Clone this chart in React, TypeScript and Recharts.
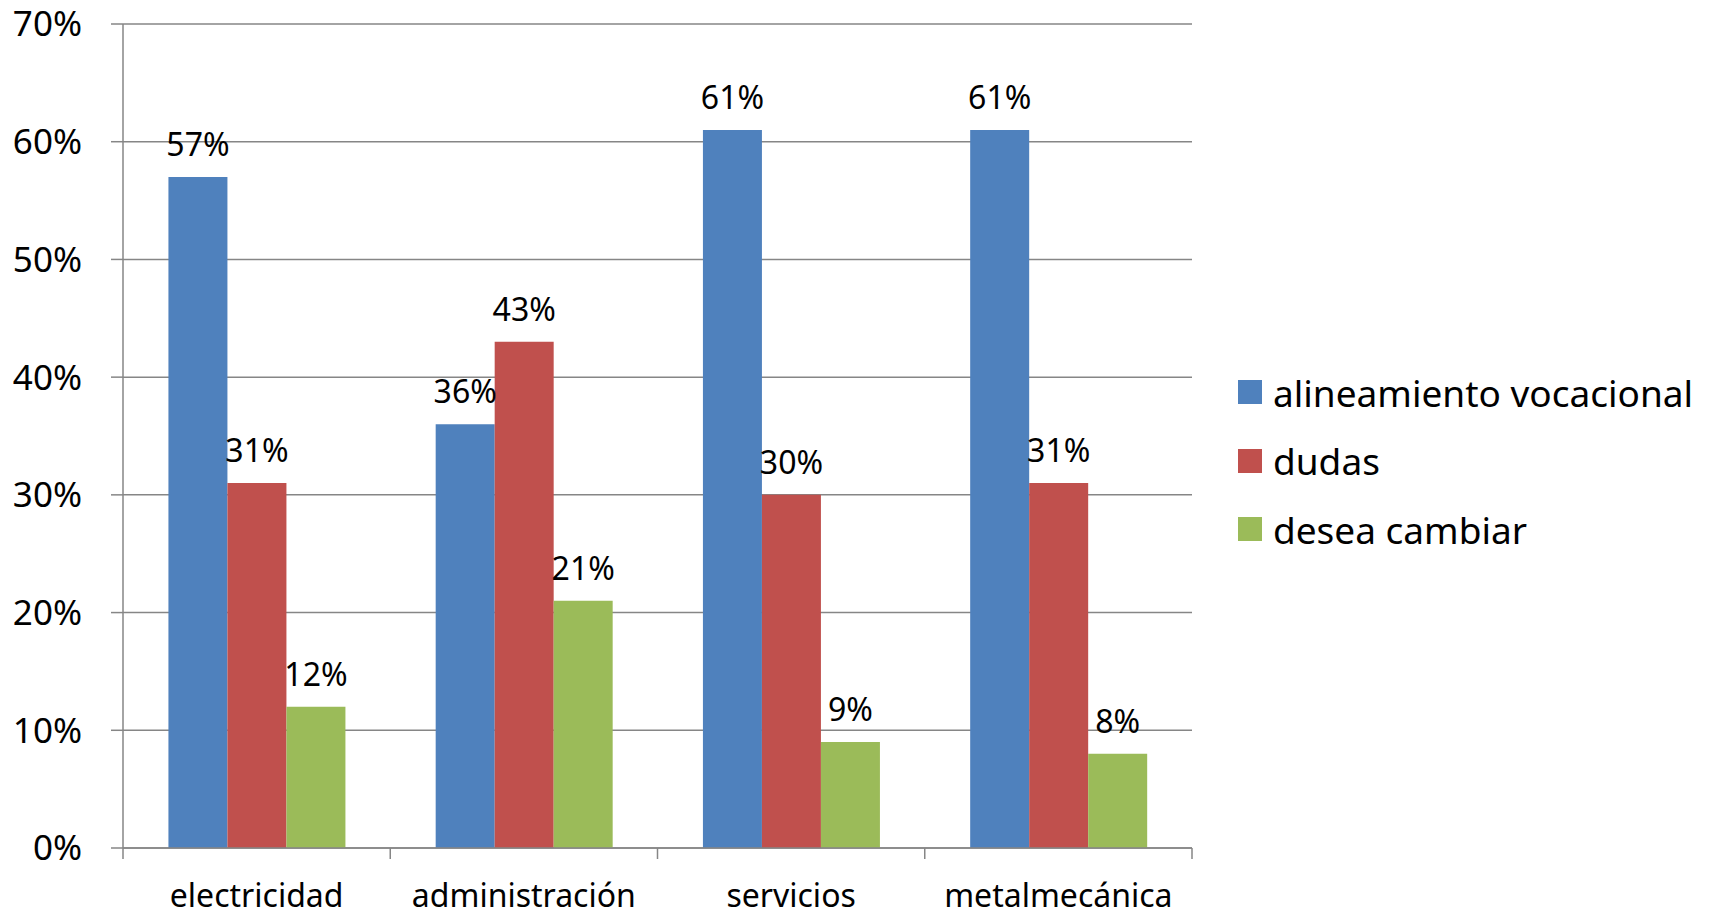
import React from 'react';
import { BarChart, Bar, XAxis, YAxis, CartesianGrid, Legend, LabelList } from 'recharts';

const categories = ['electricidad', 'administración', 'servicios', 'metalmecánica'];
const alineamientoVocacional = [57, 36, 61, 61];
const dudas = [31, 43, 30, 31];
const deseaCambiar = [12, 21, 9, 8];
const yTicks = [0, 10, 20, 30, 40, 50, 60, 70];

const seriesNames = ['alineamiento vocacional', 'dudas', 'desea cambiar'];
const seriesColors = ['#4F81BD', '#C0504D', '#9BBB59'];

const data = categories.map((c, i) => ({
  name: c,
  a: alineamientoVocacional[i],
  d: dudas[i],
  c: deseaCambiar[i],
}));

const FONT = '"Noto Sans", "Open Sans", sans-serif';
const GRID = '#868686';

const XTick = (props: any) => {
  const { x, y, payload, index, visibleTicksCount } = props;
  const half = payload && payload.offset ? payload.offset : 134;
  const isLast = index === visibleTicksCount - 1;
  return (
    <g>
      <line x1={x - half} x2={x - half} y1={y} y2={y + 11} stroke={GRID} strokeWidth={1.5} />
      {isLast && <line x1={x + half} x2={x + half} y1={y} y2={y + 11} stroke={GRID} strokeWidth={1.5} />}
      <text x={x} y={y + 59} textAnchor="middle" fill="#000" fontSize={32} fontFamily={FONT}>
        {payload.value}
      </text>
    </g>
  );
};

const LegendContent = () => (
  <div style={{ fontFamily: FONT }}>
    {seriesNames.map((n, i) => (
      <div key={n} style={{ display: 'flex', alignItems: 'center', height: 68.5 }}>
        <div style={{ width: 24, height: 24, background: seriesColors[i], marginRight: 11, flex: 'none' }} />
        <span style={{ fontSize: 37, lineHeight: 1, color: '#000', whiteSpace: 'nowrap' }}>{n}</span>
      </div>
    ))}
  </div>
);

export default function App() {
  return (
    <div style={{ position: 'absolute', left: 0, top: 0, width: 1713, height: 913, background: '#fff' }}>
      <BarChart
        width={1713}
        height={913}
        data={data}
        margin={{ top: 24, right: 521, bottom: 0, left: 0 }}
        barCategoryGap="17%"
        barGap={0}
      >
        <CartesianGrid horizontal vertical={false} stroke={GRID} strokeWidth={1.5} />
        <XAxis
          dataKey="name"
          height={65}
          axisLine={{ stroke: GRID, strokeWidth: 1.5 }}
          tickLine={false}
          tickSize={0}
          tickMargin={0}
          tick={<XTick />}
          interval={0}
        />
        <YAxis
          width={123}
          domain={[0, 70]}
          ticks={yTicks}
          interval={0}
          tickFormatter={(v: number) => `${v}%`}
          axisLine={{ stroke: GRID, strokeWidth: 1.5 }}
          tickLine={{ stroke: GRID, strokeWidth: 1.5 }}
          tickSize={12}
          tickMargin={29}
          tick={{ fill: '#000', fontSize: 35, fontFamily: FONT }}
        />
        <Legend
          layout="horizontal"
          align="center"
          verticalAlign="middle"
          content={<LegendContent />}
          wrapperStyle={{ position: 'absolute', left: 1238, top: 358, width: 475, height: 210 }}
        />
        <Bar dataKey="a" name={seriesNames[0]} fill={seriesColors[0]} isAnimationActive={false}>
          <LabelList dataKey="a" position="top" offset={21} formatter={(v: any) => `${v}%`} fill="#000" fontSize={32} fontFamily={FONT} />
        </Bar>
        <Bar dataKey="d" name={seriesNames[1]} fill={seriesColors[1]} isAnimationActive={false}>
          <LabelList dataKey="d" position="top" offset={21} formatter={(v: any) => `${v}%`} fill="#000" fontSize={32} fontFamily={FONT} />
        </Bar>
        <Bar dataKey="c" name={seriesNames[2]} fill={seriesColors[2]} isAnimationActive={false}>
          <LabelList dataKey="c" position="top" offset={21} formatter={(v: any) => `${v}%`} fill="#000" fontSize={32} fontFamily={FONT} />
        </Bar>
      </BarChart>
    </div>
  );
}
